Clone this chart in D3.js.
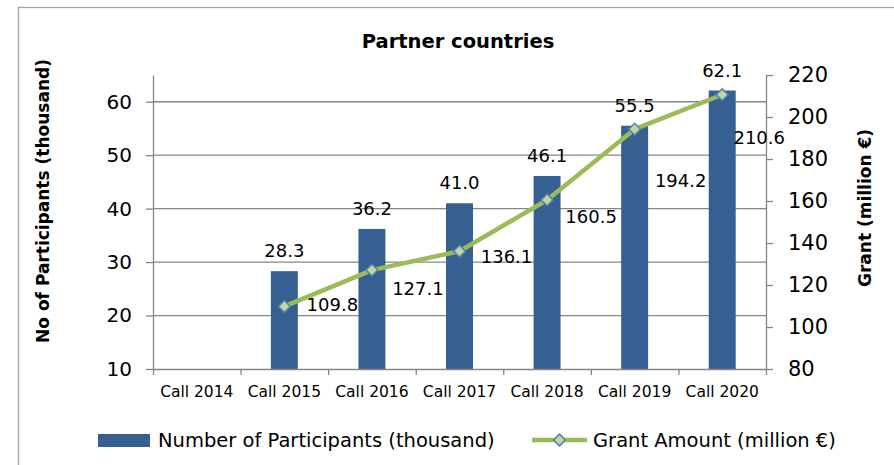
<!DOCTYPE html>
<html>
<head>
<meta charset="utf-8">
<script src="https://cdn.jsdelivr.net/npm/d3@7"></script>
<style>
  body { margin: 0; background: #fff; }
  svg, svg text { font-family: Verdana, "DejaVu Sans", sans-serif; }
  .axis path, .axis line { stroke: #868686; stroke-width: 1.3px; }
  .axis text { fill: #000; font-family: Verdana, "DejaVu Sans", sans-serif; }
</style>
</head>
<body>
<div id="chart"></div>
<script>
// data
let calls = ["Call 2014", "Call 2015", "Call 2016", "Call 2017", "Call 2018", "Call 2019", "Call 2020"];
let participants = [null, 28.3, 36.2, 41.0, 46.1, 55.5, 62.1];   // thousand
let grants = [null, 109.8, 127.1, 136.1, 160.5, 194.2, 210.6];    // million €
let leftTicks = [10, 20, 30, 40, 50, 60];
let rightTicks = [80, 100, 120, 140, 160, 180, 200, 220];

// the grant labels were moved by hand in the original, so nudge them the same way
let grantLabelNudge = [null, [48, -2], [46, 18], [47, 5], [44, 17], [46, 51], [37, 43]];

let W = 894, H = 465;
let plotLeft = 153, plotRight = 766, plotTop = 75, plotBottom = 369;

let barColor = "#366092", lineColor = "#9bbb59";

var svg = d3.select("#chart")
    .append("svg")
    .attr("width", W)
    .attr("height", H);

// outer frame (runs off the right/bottom edge)
svg.append("rect")
    .attr("x", 18.5).attr("y", 7.5)
    .attr("width", 1000).attr("height", 1000)
    .attr("fill", "none")
    .attr("stroke", "#a6a6a6")
    .attr("stroke-width", 1.3);

var x = d3.scaleBand()
    .domain(calls)
    .range([plotLeft, plotRight])
    .paddingInner(0.692)
    .paddingOuter(0.346);

var xEdges = d3.scaleLinear().domain([0, calls.length]).range([plotLeft, plotRight]);

var y1 = d3.scaleLinear().domain([10, 65]).range([plotBottom, plotTop]);
var y2 = d3.scaleLinear().domain([80, 220]).range([plotBottom, plotTop]);

// gridlines
svg.append("g")
    .selectAll("line")
    .data(leftTicks.slice(1))
    .enter()
    .append("line")
    .attr("x1", plotLeft).attr("x2", plotRight)
    .attr("y1", d => y1(d)).attr("y2", d => y1(d))
    .attr("stroke", "#868686")
    .attr("stroke-width", 1.3);

// bars
let barData = calls.map((c, i) => ({ call: c, v: participants[i] })).filter(d => d.v != null);

svg.append("g")
    .selectAll("rect")
    .data(barData)
    .enter()
    .append("rect")
    .attr("x", d => x(d.call))
    .attr("y", d => y1(d.v))
    .attr("width", x.bandwidth())
    .attr("height", d => plotBottom - y1(d.v))
    .attr("fill", barColor);

svg.append("g")
    .selectAll("text")
    .data(barData)
    .enter()
    .append("text")
    .attr("x", d => x(d.call) + x.bandwidth() / 2)
    .attr("y", d => y1(d.v) - 14)
    .attr("text-anchor", "middle")
    .style("font-size", "18px")
    .text(d => d.v.toFixed(1));

// axes
svg.append("g")
    .attr("class", "axis")
    .attr("transform", `translate(${plotLeft},0)`)
    .call(d3.axisLeft(y1).tickValues(leftTicks).tickSize(7).tickSizeOuter(0).tickPadding(14))
    .selectAll("text").style("font-size", "20px");

svg.append("g")
    .attr("class", "axis")
    .attr("transform", `translate(${plotRight},0)`)
    .call(d3.axisRight(y2).tickValues(rightTicks).tickSize(7).tickSizeOuter(0).tickPadding(15))
    .selectAll("text").style("font-size", "21px");

svg.append("g")
    .attr("class", "axis")
    .attr("transform", `translate(0,${plotBottom})`)
    .call(d3.axisBottom(xEdges).tickValues(d3.range(calls.length + 1)).tickFormat("").tickSize(6).tickSizeOuter(0));

svg.append("g")
    .attr("class", "axis")
    .attr("transform", `translate(0,${plotBottom})`)
    .call(d3.axisBottom(x).tickSize(0).tickPadding(17))
    .call(g => g.select(".domain").remove())
    .selectAll("text").style("font-size", "15.5px");

// grant line
let lineData = calls.map((c, i) => ({ call: c, v: grants[i], nudge: grantLabelNudge[i] })).filter(d => d.v != null);
let cx = d => x(d.call) + x.bandwidth() / 2;

var line = d3.line()
    .x(cx)
    .y(d => y2(d.v));

svg.append("path")
    .datum(lineData)
    .attr("d", line)
    .attr("fill", "none")
    .attr("stroke", lineColor)
    .attr("stroke-width", 4.5)
    .attr("stroke-linejoin", "round");

var diamond = d3.symbol().type(d3.symbolSquare).size(70);

svg.append("g")
    .selectAll("path")
    .data(lineData)
    .enter()
    .append("path")
    .attr("d", diamond)
    .attr("transform", d => `translate(${cx(d)},${y2(d.v)}) rotate(45)`)
    .attr("fill", "#c3d69b")
    .attr("stroke", "#4f81bd")
    .attr("stroke-width", 1.5);

svg.append("g")
    .selectAll("text")
    .data(lineData)
    .enter()
    .append("text")
    .attr("x", d => cx(d) + d.nudge[0])
    .attr("y", d => y2(d.v) + d.nudge[1])
    .attr("dy", "0.36em")
    .attr("text-anchor", "middle")
    .style("font-size", "18px")
    .text(d => d.v.toFixed(1));

// titles
svg.append("text")
    .attr("x", 458).attr("y", 48)
    .attr("text-anchor", "middle")
    .style("font-size", "19.5px")
    .style("font-weight", "bold")
    .text("Partner countries");

svg.append("text")
    .attr("transform", "translate(43,201) rotate(-90)")
    .attr("dy", "0.36em")
    .attr("text-anchor", "middle")
    .style("font-size", "17px")
    .style("font-weight", "bold")
    .text("No of Participants (thousand)");

svg.append("text")
    .attr("transform", "translate(865,208) rotate(-90)")
    .attr("dy", "0.36em")
    .attr("text-anchor", "middle")
    .style("font-size", "17px")
    .style("font-weight", "bold")
    .text("Grant (million €)");

// legend
let legend = svg.append("g");

legend.append("rect")
    .attr("x", 98).attr("y", 434)
    .attr("width", 52).attr("height", 13)
    .attr("fill", barColor);

legend.append("text")
    .attr("x", 158).attr("y", 440)
    .attr("dy", "0.36em")
    .style("font-size", "19.5px")
    .text("Number of Participants (thousand)");

legend.append("line")
    .attr("x1", 532).attr("x2", 587)
    .attr("y1", 440).attr("y2", 440)
    .attr("stroke", lineColor)
    .attr("stroke-width", 4.5);

legend.append("path")
    .attr("d", diamond)
    .attr("transform", "translate(559.5,440) rotate(45)")
    .attr("fill", "#c3d69b")
    .attr("stroke", "#4f81bd")
    .attr("stroke-width", 1.5);

legend.append("text")
    .attr("x", 593).attr("y", 440)
    .attr("dy", "0.36em")
    .style("font-size", "19.5px")
    .text("Grant Amount (million €)");
</script>
</body>
</html>
